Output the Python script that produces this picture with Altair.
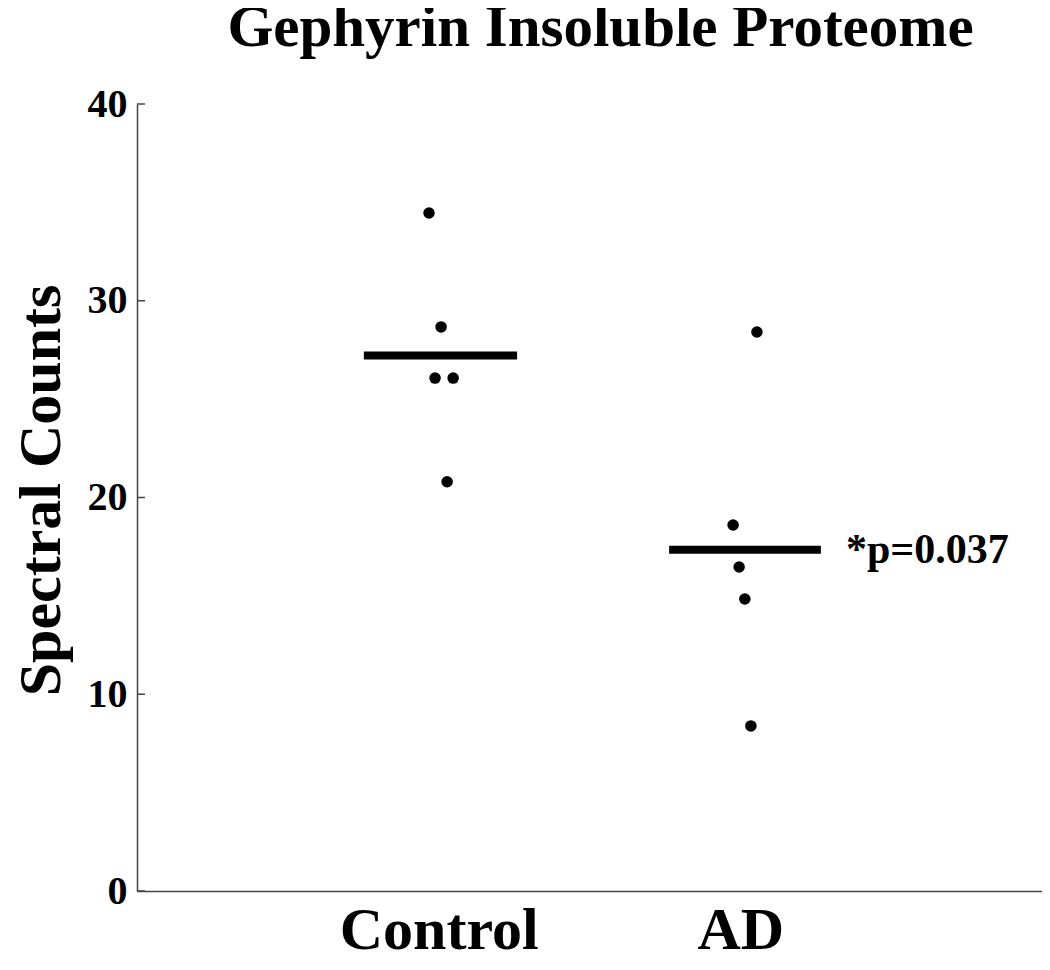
import altair as alt
import pandas as pd

# ---- data ----
groups = ["Control", "AD"]
group_pos = [1, 2]

ctrl_x = [0.968, 1.008, 0.988, 1.048, 1.028]
ctrl_y = [34.46, 28.67, 26.07, 26.07, 20.80]
ad_x = [2.055, 1.976, 1.996, 2.015, 2.035]
ad_y = [28.41, 18.60, 16.47, 14.84, 8.39]

mean_x1 = [0.752, 1.764]
mean_x2 = [1.260, 2.267]

y_ticks = [0, 10, 20, 30, 40]
p_label = "*p=0.037"
p_x = 2.350

FONT = "Liberation Serif"

pts = pd.DataFrame({
    "x": ctrl_x + ad_x,
    "y": ctrl_y + ad_y,
    "group": ["Control"] * len(ctrl_x) + ["AD"] * len(ad_x),
})
means = pd.DataFrame({
    "group": groups,
    "x1": mean_x1,
    "x2": mean_x2,
    "mean": [sum(ctrl_y) / len(ctrl_y), sum(ad_y) / len(ad_y)],
})
ticks = pd.DataFrame({"t": y_ticks})
ann = pd.DataFrame({"x": [p_x], "y": [means["mean"].iloc[1]], "label": [p_label]})

label_expr = " : ".join(
    [f"datum.value == {p} ? '{g}'" for p, g in zip(group_pos, groups)]
) + " : ''"

xscale = alt.Scale(domain=[0, 3], nice=False, zero=False)
yscale = alt.Scale(domain=[0, 40], nice=False)

xaxis = alt.Axis(
    values=group_pos, labelExpr=label_expr, ticks=False, grid=False,
    domainColor="#444444", domainWidth=1.5, title=None,
    labelFont=FONT, labelFontWeight="bold", labelFontSize=60,
    labelColor="black", labelPadding=57, labelBaseline="alphabetic",
    labelLimit=2000, labelFlush=False, labelOverlap=False,
)
yaxis = alt.Axis(
    values=y_ticks, ticks=False, grid=False,
    domainColor="#444444", domainWidth=1.5,
    labelFont=FONT, labelFontWeight="bold", labelFontSize=40,
    labelColor="black", labelPadding=10, labelBaseline="middle",
    title="Spectral Counts", titleFont=FONT, titleFontWeight="bold",
    titleFontSize=60, titleColor="black", titleAngle=270,
    titleX=-78, titleY=386, titleAlign="center", titleBaseline="alphabetic",
    titleLimit=2000,
)

points = alt.Chart(pts).mark_circle(size=133, color="black", opacity=1).encode(
    x=alt.X("x:Q", scale=xscale, axis=xaxis),
    y=alt.Y("y:Q", scale=yscale, axis=yaxis),
)

mean_rules = alt.Chart(means).mark_rule(color="black", strokeWidth=8).encode(
    x=alt.X("x1:Q", scale=xscale),
    x2="x2:Q",
    y=alt.Y("mean:Q", scale=yscale),
)

tick_marks = alt.Chart(ticks).mark_rule(color="#444444", strokeWidth=1.5).encode(
    y=alt.Y("t:Q", scale=yscale),
    x=alt.value(0),
    x2=alt.value(8),
)

annotation = alt.Chart(ann).mark_text(
    font=FONT, fontWeight="bold", fontSize=42, color="black",
    align="left", baseline="middle",
).encode(
    x=alt.X("x:Q", scale=xscale),
    y=alt.Y("y:Q", scale=yscale),
    text="label:N",
)

chart = alt.layer(points, mean_rules, tick_marks, annotation).properties(
    width=905,
    height=787,
    background="white",
    title=alt.TitleParams(
        "Gephyrin Insoluble Proteome",
        font=FONT, fontWeight="bold", fontSize=59, color="black",
        anchor="middle", offset=26, dx=11, limit=2000,
    ),
    autosize=alt.AutoSizeParams(type="none"),
    padding={"left": 129, "top": 96, "right": 0, "bottom": 71},
).configure_view(stroke=None).configure_axis(grid=False)

chart.save("out.html", embed_options={"renderer": "svg", "actions": False})
